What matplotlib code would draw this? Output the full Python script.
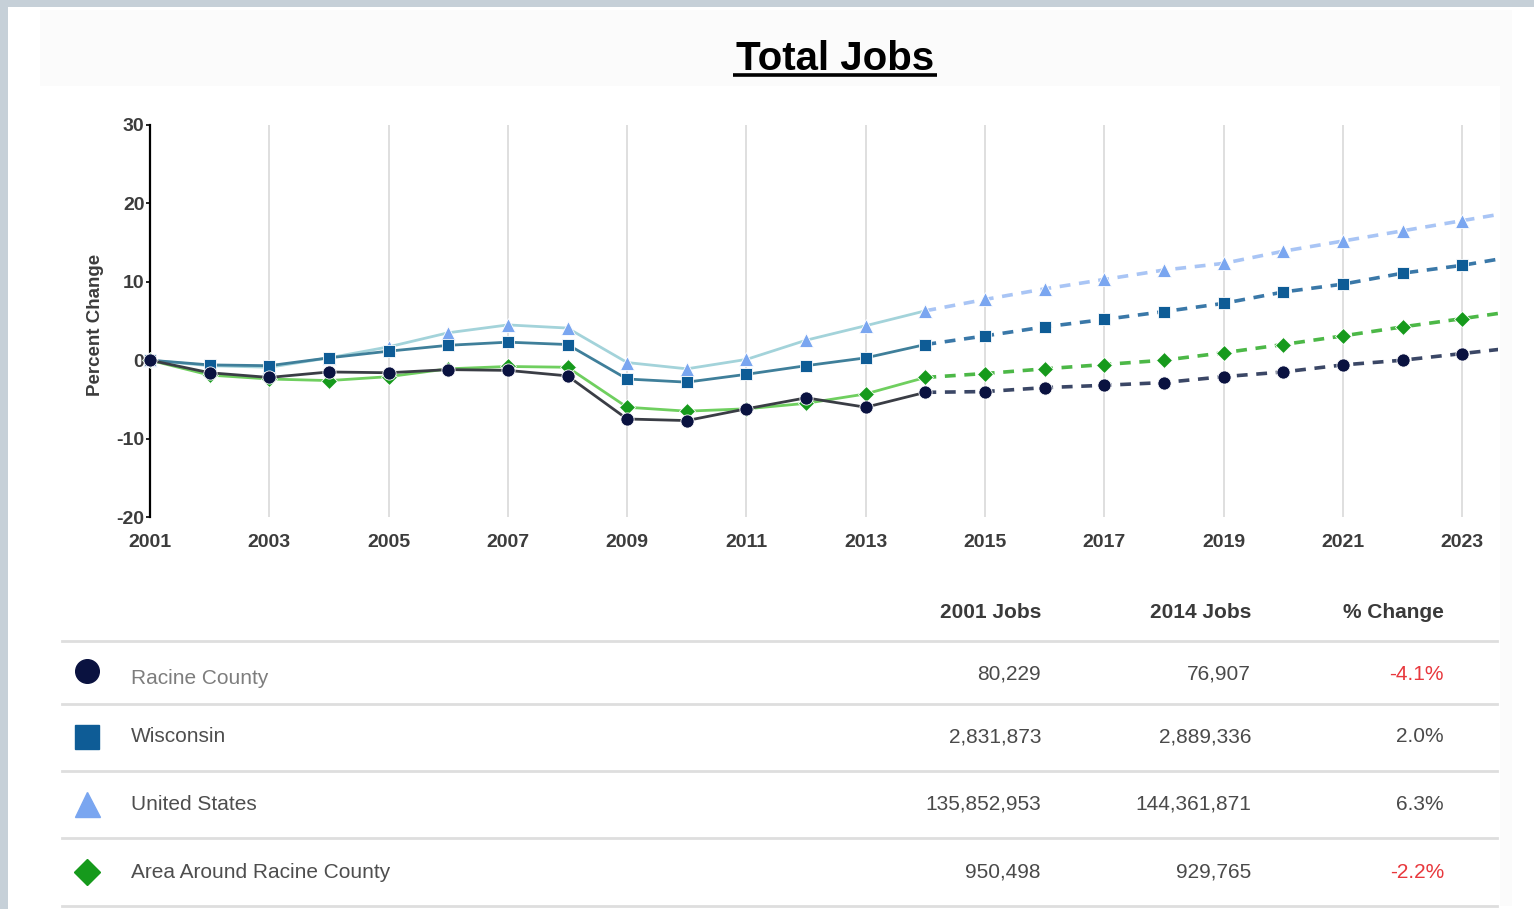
import matplotlib.pyplot as plt
from matplotlib.patches import Rectangle

plt.rcParams['font.family'] = ['Liberation Sans', 'DejaVu Sans']
plt.rcParams['axes.unicode_minus'] = False

# percent change in total jobs since 2001; 2014 onward is the projection
years = list(range(2001, 2025))
racine = [0.0, -1.6, -2.2, -1.5, -1.6, -1.2, -1.3, -2.0, -7.5, -7.7, -6.2, -4.8,
          -6.0, -4.1, -4.0, -3.5, -3.2, -2.85, -2.1, -1.5, -0.6, 0.0, 0.85, 1.7]
wisconsin = [0.0, -0.6, -0.7, 0.3, 1.15, 1.9, 2.3, 2.0, -2.4, -2.8, -1.8, -0.7,
             0.3, 2.0, 3.1, 4.25, 5.2, 6.2, 7.25, 8.7, 9.7, 11.1, 12.1, 13.4]
united_states = [0.0, -0.7, -0.9, 0.3, 1.7, 3.5, 4.5, 4.1, -0.3, -1.1, 0.1, 2.55,
                 4.4, 6.3, 7.75, 9.1, 10.3, 11.5, 12.35, 13.9, 15.2, 16.5, 17.8, 19.1]
area = [0.0, -1.9, -2.4, -2.6, -2.1, -1.1, -0.8, -0.9, -6.0, -6.5, -6.2, -5.5,
        -4.3, -2.2, -1.7, -1.1, -0.55, 0.0, 0.95, 2.0, 3.1, 4.25, 5.3, 6.4]
last_actual = 2014

# summary table
regions = ['Racine County', 'Wisconsin', 'United States', 'Area Around Racine County']
jobs_2001 = [80229, 2831873, 135852953, 950498]
jobs_2014 = [76907, 2889336, 144361871, 929765]

# name: (values, marker, size, key size, marker colour, history line, projection line)
styles = {
    'Racine County': (racine, 'o', 9.5, 17, '#0a1240', '#3a3d45', '#3b4766'),
    'Wisconsin': (wisconsin, 's', 8.5, 17, '#0e5c96', '#3f7f9a', '#3a78a8'),
    'United States': (united_states, '^', 9.5, 18, '#7aa6f0', '#a3d3da', '#a9c5f5'),
    'Area Around Racine County': (area, 'D', 8, 13, '#169a1c', '#6fcf5f', '#4cb847'),
}
draw_order = ['United States', 'Wisconsin', 'Area Around Racine County', 'Racine County']

fig = plt.figure(figsize=(15.34, 9.09), dpi=100)
fig.patch.set_facecolor('white')

# page furniture drawn in pixel coordinates
bg = fig.add_axes([0, 0, 1, 1])
bg.set_xlim(0, 1534)
bg.set_ylim(909, 0)
bg.axis('off')
bg.add_patch(Rectangle((0, 0), 1534, 7, color='#c6d0d8', lw=0))
bg.add_patch(Rectangle((0, 0), 8, 909, color='#c6d0d8', lw=0))
bg.add_patch(Rectangle((40, 10), 1472, 76, color='#fbfbfb', lw=0))
bg.add_patch(Rectangle((1500, 86), 12, 820, color='#fbfbfb', lw=0))

bg.text(835, 70, 'Total Jobs', ha='center', va='baseline', fontsize=29,
        fontweight='bold', color='black')
bg.plot([733, 937], [75, 75], color='black', lw=2.6, solid_capstyle='butt')

ax = fig.add_axes([150 / 1534, 1 - 517 / 909, (1498 - 150) / 1534, (517 - 125) / 909])
ax.set_facecolor('none')

cut = years.index(last_actual)
for i, name in enumerate(draw_order):
    vals, mk, ms, _, mc, hist_c, proj_c = styles[name]
    z = 3 + i
    ax.plot(years[:cut + 1], vals[:cut + 1], color=hist_c, lw=2, zorder=z)
    ax.plot(years[cut:], vals[cut:], color=proj_c, lw=2.6,
            linestyle=(0, (3, 2.4)), zorder=z)
    shown = [(y, v) for y, v in zip(years, vals) if y <= 2023]
    ax.plot([p[0] for p in shown], [p[1] for p in shown], ls='none', marker=mk,
            ms=ms, mfc=mc, mec='white', mew=0.6, zorder=z + 0.5, clip_on=False)

ax.set_xlim(2001, 2023.6)
ax.set_ylim(-20, 30)
ax.set_xticks(range(2001, 2024, 2))
ax.set_yticks(range(-20, 31, 10))
ax.grid(axis='x', color='#dcdcdc', lw=1.3)
ax.set_axisbelow(True)
for side in ['top', 'right', 'bottom']:
    ax.spines[side].set_visible(False)
ax.spines['left'].set_color('black')
ax.spines['left'].set_linewidth(1.6)
ax.tick_params(axis='x', length=0, pad=12, labelsize=14, labelcolor='#3c3c3c')
ax.tick_params(axis='y', length=3, width=1.2, pad=1, labelsize=14, labelcolor='#3c3c3c')
for lab in ax.get_xticklabels() + ax.get_yticklabels():
    lab.set_fontweight('bold')
ax.set_ylabel('Percent Change', fontsize=13.5, fontweight='bold', color='#3c3c3c')
ax.yaxis.set_label_coords(-0.034, 0.49)

# table below the chart
col_x = [1041, 1251, 1444]
headers = ['2001 Jobs', '2014 Jobs', '% Change']
for x, h in zip(col_x, headers):
    bg.text(x, 612, h, ha='right', va='center', fontsize=15, fontweight='bold',
            color='#3a3a3a')

rule_y = [641, 704, 771, 838, 906]
for y in rule_y:
    bg.plot([62, 1497], [y, y], color='#dedede', lw=2)

row_y = [674, 737, 804, 872]
for i, name in enumerate(regions):
    y = row_y[i]
    _, mk, _, key_ms, mc, _, _ = styles[name]
    bg.plot(87, y - 3 if i == 0 else y, marker=mk, ms=key_ms, mfc=mc, mec=mc, ls='none')
    name_c = '#7d7d7d' if i == 0 else '#4e4e4e'
    bg.text(131, y + (5 if i == 0 else 0), name, ha='left', va='center', fontsize=15,
            color=name_c)
    pct = (jobs_2014[i] - jobs_2001[i]) / jobs_2001[i] * 100
    bg.text(col_x[0], y, f'{jobs_2001[i]:,}', ha='right', va='center', fontsize=15,
            color='#4a4a4a')
    bg.text(col_x[1], y, f'{jobs_2014[i]:,}', ha='right', va='center', fontsize=15,
            color='#4a4a4a')
    bg.text(col_x[2], y, f'{pct:.1f}%', ha='right', va='center', fontsize=15,
            color='#e8383d' if pct < 0 else '#4a4a4a')

fig.savefig('out.png', dpi=100, facecolor='white')
